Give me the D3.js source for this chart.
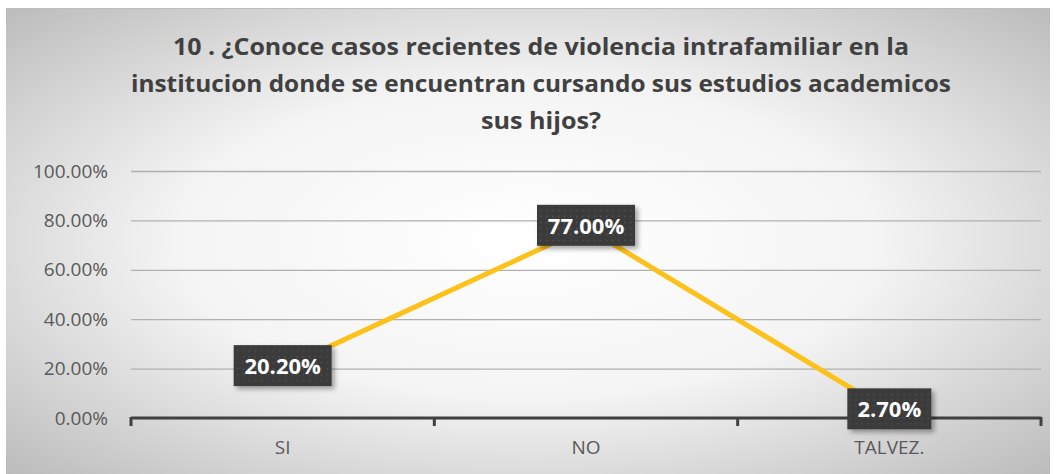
<!DOCTYPE html>
<html>
<head>
<meta charset="utf-8">
<script src="https://cdn.jsdelivr.net/npm/d3@7"></script>
<style>
  body { margin: 0; background: white; }
</style>
</head>
<body>
<script>
  // data
  var categories = ["SI", "NO", "TALVEZ."];
  var values = [0.202, 0.77, 0.027];
  var valueLabels = ["20.20%", "77.00%", "2.70%"];
  var yTicks = [0, 0.2, 0.4, 0.6, 0.8, 1.0];
  var titleLines = [
    "10 . ¿Conoce casos recientes de violencia intrafamiliar en la",
    "institucion donde se encuentran cursando sus estudios academicos",
    "sus hijos?"
  ];

  var width = 1056, height = 474;
  var plotLeft = 131, plotRight = 1041, plotTop = 171, plotBottom = 418;

  var svg = d3.select("body").append("svg")
    .attr("width", width)
    .attr("height", height);

  var defs = svg.append("defs");

  var grad = defs.append("radialGradient")
    .attr("id", "bg")
    .attr("cx", "50%").attr("cy", "50%").attr("r", "75%");
  grad.append("stop").attr("offset", "0%").attr("stop-color", "#ffffff");
  grad.append("stop").attr("offset", "45%").attr("stop-color", "#f4f4f4");
  grad.append("stop").attr("offset", "100%").attr("stop-color", "#b5b5b5");

  var pat = defs.append("pattern")
    .attr("id", "dots")
    .attr("width", 6).attr("height", 6)
    .attr("patternUnits", "userSpaceOnUse");
  pat.append("rect").attr("width", 6).attr("height", 6).attr("fill", "#3b3b3b");
  pat.append("rect").attr("x", 2).attr("y", 2).attr("width", 1.3).attr("height", 1.3).attr("fill", "#555");

  var shadow = defs.append("filter").attr("id", "shadow")
    .attr("x", "-20%").attr("y", "-20%").attr("width", "150%").attr("height", "150%");
  shadow.append("feDropShadow")
    .attr("dx", 3).attr("dy", 3).attr("stdDeviation", 2.5)
    .attr("flood-color", "#000").attr("flood-opacity", 0.35);

  // chart area
  svg.append("rect")
    .attr("x", 6).attr("y", 8)
    .attr("width", 1044).attr("height", 466)
    .attr("fill", "url(#bg)");
  svg.append("line")
    .attr("x1", 6).attr("x2", 1050).attr("y1", 8.5).attr("y2", 8.5)
    .attr("stroke", "#bdbdbd").attr("stroke-width", 1);

  // title
  var titleWidths = [736, 820, 120];
  svg.append("g").selectAll("text")
    .data(titleLines)
    .join("text")
    .attr("x", 541)
    .attr("y", function(d, i) { return 55 + i * 37; })
    .attr("text-anchor", "middle")
    .attr("font-family", "'Open Sans', sans-serif")
    .attr("font-weight", "bold")
    .attr("font-size", 23)
    .attr("fill", "#404040")
    .attr("textLength", function(d, i) { return titleWidths[i]; })
    .attr("lengthAdjust", "spacingAndGlyphs")
    .text(function(d) { return d; });

  var x = d3.scaleBand()
    .domain(categories)
    .range([plotLeft, plotRight]);

  var y = d3.scaleLinear()
    .domain([0, 1])
    .range([plotBottom, plotTop]);

  // gridlines
  svg.append("g")
    .attr("transform", "translate(" + plotLeft + ",0)")
    .call(d3.axisLeft(y).tickValues(yTicks).tickSize(-(plotRight - plotLeft)).tickFormat(""))
    .call(function(g) {
      g.select(".domain").remove();
      g.selectAll(".tick line").attr("stroke", "#b0b0b0").attr("stroke-width", 1.3);
    });

  // y tick labels
  svg.append("g")
    .attr("transform", "translate(" + plotLeft + ",0)")
    .call(d3.axisLeft(y).tickValues(yTicks).tickSize(0).tickPadding(23)
      .tickFormat(function(d) { return d3.format(".2%")(d); }))
    .call(function(g) {
      g.select(".domain").remove();
      g.selectAll("text")
        .attr("font-family", "'Open Sans', sans-serif")
        .attr("font-size", 19)
        .attr("fill", "#595959");
    });

  // x axis
  svg.append("g")
    .attr("transform", "translate(0," + plotBottom + ")")
    .call(d3.axisBottom(x).tickSize(0).tickPadding(23))
    .call(function(g) {
      g.select(".domain").attr("stroke", "#404040").attr("stroke-width", 3)
        .attr("d", "M" + plotLeft + ",0H" + plotRight);
      g.selectAll("text")
        .attr("font-family", "'Open Sans', sans-serif")
        .attr("font-size", 19)
        .attr("fill", "#595959");
    });

  // x axis tick marks at band edges
  var edges = categories.map(function(c) { return x(c); }).concat([plotRight]);
  svg.append("g").selectAll("line")
    .data(edges)
    .join("line")
    .attr("x1", function(d) { return d; })
    .attr("x2", function(d) { return d; })
    .attr("y1", plotBottom - 1)
    .attr("y2", plotBottom + 8)
    .attr("stroke", "#404040")
    .attr("stroke-width", 3);

  var cx = function(d, i) { return x(categories[i]) + x.bandwidth() / 2; };

  // line
  var line = d3.line()
    .x(function(d, i) { return cx(d, i); })
    .y(function(d) { return y(d); });

  svg.append("path")
    .datum(values)
    .attr("fill", "none")
    .attr("stroke", "#fcc21b")
    .attr("stroke-width", 5)
    .attr("stroke-linejoin", "round")
    .attr("d", line);

  // data labels
  var labels = svg.append("g").selectAll("g")
    .data(values)
    .join("g")
    .attr("transform", function(d, i) { return "translate(" + cx(d, i) + "," + (y(d) - 2) + ")"; });

  labels.append("rect")
    .attr("x", function(d, i) { return valueLabels[i].length > 5 ? -49 : -42; })
    .attr("y", -21)
    .attr("width", function(d, i) { return valueLabels[i].length > 5 ? 98 : 84; })
    .attr("height", 41)
    .attr("fill", "url(#dots)")
    .attr("filter", "url(#shadow)");

  labels.append("text")
    .attr("text-anchor", "middle")
    .attr("dy", "0.36em")
    .attr("font-family", "'Open Sans', sans-serif")
    .attr("font-weight", "bold")
    .attr("font-size", 22)
    .attr("fill", "#ffffff")
    .text(function(d, i) { return valueLabels[i]; });
</script>
</body>
</html>
